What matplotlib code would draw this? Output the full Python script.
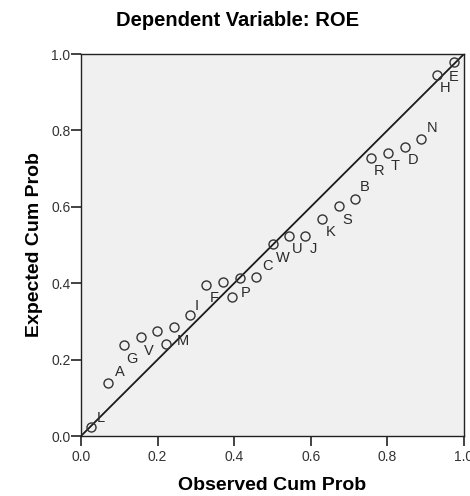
import matplotlib
matplotlib.use("Agg")
import matplotlib.pyplot as plt

plt.rcParams['font.family'] = ['Liberation Sans', 'DejaVu Sans']

observed = [0.027, 0.070, 0.112, 0.156, 0.199, 0.221, 0.243, 0.285, 0.327, 0.371,
            0.394, 0.414, 0.458, 0.500, 0.542, 0.586, 0.629, 0.673, 0.715, 0.758,
            0.802, 0.845, 0.887, 0.929, 0.974]
expected = [0.023, 0.138, 0.238, 0.260, 0.275, 0.241, 0.286, 0.316, 0.395, 0.402,
            0.365, 0.414, 0.417, 0.502, 0.524, 0.524, 0.567, 0.602, 0.620, 0.727,
            0.740, 0.757, 0.777, 0.945, 0.980]
labels = ["L", "A", "G", "V", "", "", "M", "I", "F", "", "P", "", "C", "W", "U", "J",
          "K", "S", "B", "R", "T", "D", "N", "H", "E"]
# label offsets in pixels (style)
offsets = [(9, 9), (12, 11), (8, -14), (8, -14), (0, 0), (0, 0), (9, -14), (7, 9),
           (8, -13), (0, 0), (14, 4), (0, 0), (11, 11), (10, -14), (9, -13), (8, -13),
           (9, -13), (8, -14), (10, 12), (8, -13), (7, -13), (8, -13), (11, 11),
           (8, -13), (0, -15)]
ticks = [0.0, 0.2, 0.4, 0.6, 0.8, 1.0]
tick_labels = ["0.0", "0.2", "0.4", "0.6", "0.8", "1.0"]

fig = plt.figure(figsize=(4.7, 4.96), dpi=100)
ax = fig.add_axes([81/470, 60/496, 383/470, 382/496])
ax.set_facecolor('#f0f0f0')

ax.plot([0, 1], [0, 1], color='#1a1a1a', lw=1.3, zorder=2)
ax.plot(observed, expected, 'o', mfc='none', mec='#333333', mew=1.0, ms=6.5,
        zorder=3, clip_on=False)
for x, y, t, (dx, dy) in zip(observed, expected, labels, offsets):
    if t:
        ax.annotate(t, (x, y), xytext=(dx, dy), textcoords='offset pixels',
                    ha='center', va='center', fontsize=10.5, color='#2a2a2a')

ax.set_xlim(0, 1)
ax.set_ylim(0, 1)
ax.set_xticks(ticks)
ax.set_xticklabels(tick_labels)
ax.set_yticks(ticks)
ax.set_yticklabels(tick_labels)
ax.tick_params(direction='out', length=7, width=1.2, color='#222222',
               labelsize=10, labelcolor='#333333')
ax.tick_params(axis='x', pad=3)
ax.tick_params(axis='y', pad=0.5)
for s in ax.spines.values():
    s.set_color('#222222')
    s.set_linewidth(1.0)

ax.set_xlabel('Observed Cum Prob', fontsize=14, fontweight='bold', va='center')
ax.set_ylabel('Expected Cum Prob', fontsize=14, fontweight='bold', va='center')
ax.xaxis.set_label_coords(0.5, -(485 - 436) / 382)
ax.yaxis.set_label_coords(-(81 - 35) / 383, 0.5)
fig.text(238 / 470, 1 - 20 / 496, 'Dependent Variable: ROE', ha='center', va='center',
         fontsize=14.5, fontweight='bold')

fig.savefig('out.png', dpi=100)
